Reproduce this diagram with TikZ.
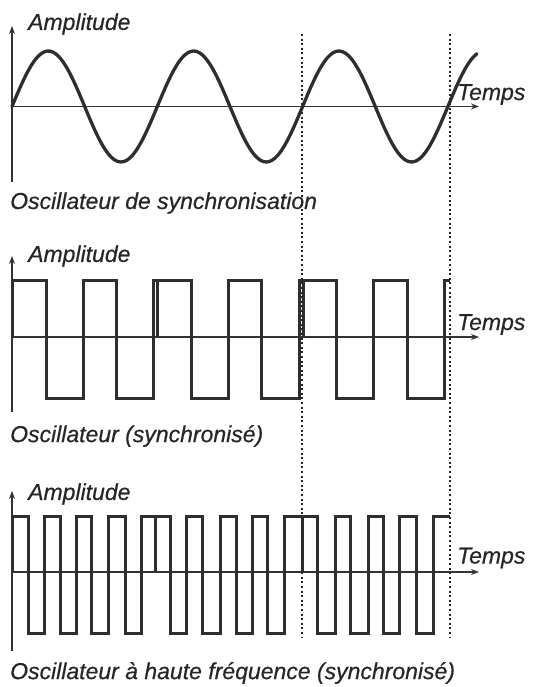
\documentclass[tikz,border=0pt]{standalone}
\usepackage{fontspec}
\setmainfont{Liberation Sans}[ItalicFeatures={FakeBold=0.5}]
\usetikzlibrary{arrows,arrows.meta,positioning,calc}

\begin{document}
\begin{tikzpicture}[
    x=1pt, y=-1pt,
    every node/.style={font=\fontsize{23}{27}\selectfont\itshape, text=black!85, inner sep=0pt},
    axis/.style={line width=1.3pt, black!80, -{Stealth[length=8pt,width=6pt]}},
    wave/.style={line width=3pt, black!82, line join=miter},
    syncline/.style={line width=2.2pt, black!85, dash pattern=on 2pt off 2.6pt}
]
    \useasboundingbox (0,0) rectangle (540,687);

    % Coordinates
    \coordinate (o1) at (12,106.5); \coordinate (y1) at (12,26);  \coordinate (b1) at (12,182); \coordinate (t1) at (479,106.5);
    \coordinate (o2) at (12,337);   \coordinate (y2) at (12,256); \coordinate (b2) at (12,412); \coordinate (t2) at (479,337);
    \coordinate (o3) at (12,572);   \coordinate (y3) at (12,491); \coordinate (b3) at (12,651); \coordinate (t3) at (479,572);
    \coordinate (sa) at (302,34);   \coordinate (sb) at (302,637);
    \coordinate (sc) at (450,34);   \coordinate (sd) at (450,637);

    % Axes
    \foreach \n in {1,2,3} {
        \draw[axis] (b\n) -- (y\n);
        \draw[axis] (o\n) -- (t\n);
    }

    % Labels
    \node[anchor=west] (amp1) at (28,24) {Amplitude};
    \node[anchor=west] (amp2) at (28,256) {Amplitude};
    \node[anchor=west] (amp3) at (28,494) {Amplitude};
    \node[anchor=west] (temps1) at (457,94.5) {Temps};
    \node[anchor=west] (temps2) at (457,324.5) {Temps};
    \node[anchor=west] (temps3) at (457,558) {Temps};
    \node[anchor=west] (cap1) at (10,203) {Oscillateur de synchronisation};
    \node[anchor=west] (cap2) at (10,436) {Oscillateur (synchronisé)};
    \node[anchor=west] (cap3) at (10,673) {Oscillateur à haute fréquence (synchronisé)};

    % Sync oscillator
    \draw[wave, line width=3.3pt, line cap=round] plot[domain=12:477, samples=160, smooth] (\x, {106.5 - 55.5*sin((\x-12)/145.3*360)});

    % Synchronised oscillator
    \draw[wave] (o2) -- (12,280)
        foreach \f/\r in {46/83, 116/153, 191/228, 261/299, 336/373, 407/444} { -- (\f,280) -- (\f,398) -- (\r,398) -- (\r,280) }
        -- (450,280);
    \draw[wave] (157,280) -- (157,337) (303,280) -- (303,337);

    % High frequency oscillator
    \draw[wave] (o3) -- (12,516)
        foreach \f/\r in {28/44, 60/76, 91/108, 125/141, 170/186, 202/220, 236/252, 267/284, 317/335, 350/368, 383/399, 416/433} { -- (\f,516) -- (\f,633) -- (\r,633) -- (\r,516) }
        -- (450,516);
    \draw[wave] (155,516) -- (155,572) (302,516) -- (302,572);

    % Sync marks
    \draw[syncline] (sa) -- (sb);
    \draw[syncline] (sc) -- (sd);

\end{tikzpicture}
\end{document}
